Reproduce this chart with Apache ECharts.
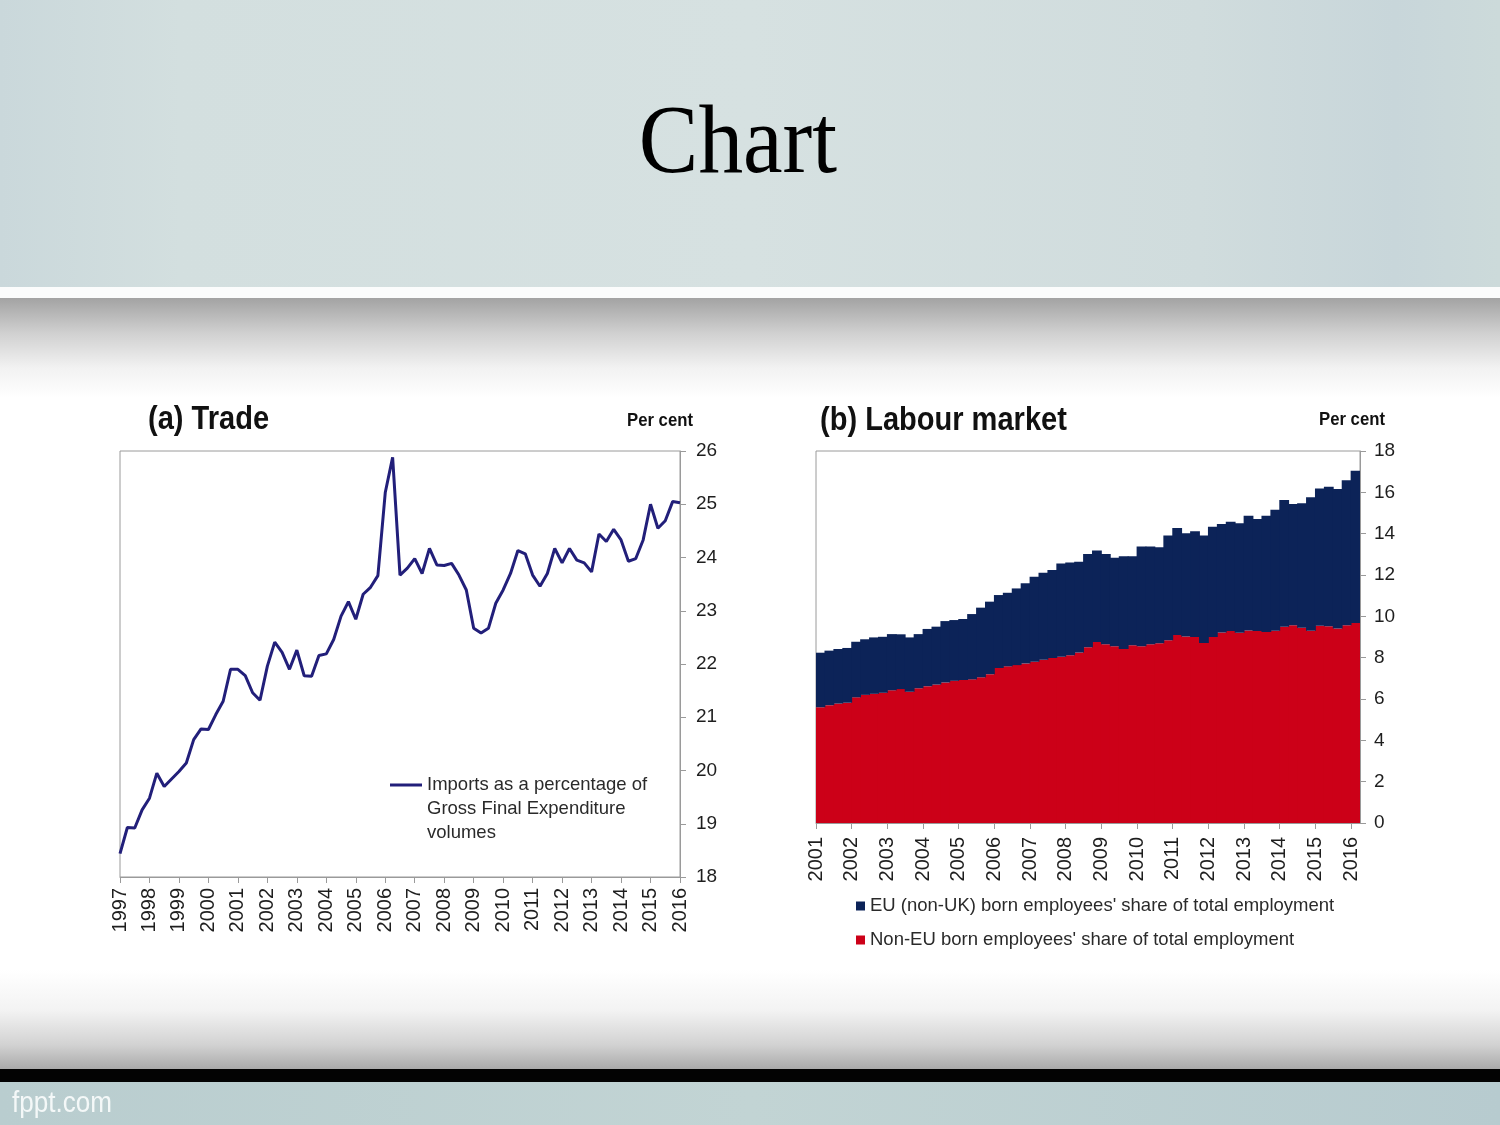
<!DOCTYPE html>
<html>
<head>
<meta charset="utf-8">
<script src="https://cdn.jsdelivr.net/npm/echarts@6/dist/echarts.min.js"></script>
<style>
html,body{margin:0;padding:0;background:#fff;}
#c{width:1500px;height:1125px;}
</style>
</head>
<body>
<div id="c"></div>
<script>
// ---------- Data ----------
// (a) Trade: quarterly, 1997 Q1 .. 2016 Q1
const tradeYears = ['1997','1998','1999','2000','2001','2002','2003','2004','2005','2006','2007','2008','2009','2010','2011','2012','2013','2014','2015','2016'];
const tradeImports = [
  18.44,18.93,18.92,19.26, 19.48,19.95,19.70,19.84, 19.98,20.14,20.58,20.78,
  20.77,21.05,21.30,21.90, 21.90,21.78,21.46,21.32, 21.96,22.41,22.22,21.90,
  22.26,21.78,21.77,22.16, 22.19,22.46,22.90,23.17, 22.84,23.31,23.44,23.66,
  25.22,25.88,23.67,23.80, 23.98,23.70,24.17,23.86, 23.85,23.89,23.67,23.39,
  22.67,22.58,22.67,23.14, 23.39,23.70,24.13,24.07, 23.67,23.46,23.70,24.17,
  23.90,24.17,23.95,23.90, 23.73,24.44,24.30,24.53, 24.33,23.93,23.98,24.33,
  25.00,24.55,24.69,25.05, 25.03
];
const tradeSeriesName = 'Imports as a percentage of Gross Final Expenditure volumes';
const tradeLegendLines = ['Imports as a percentage of', 'Gross Final Expenditure', 'volumes'];

// (b) Labour market: quarterly, 2001 Q1 .. 2016 Q1
const labourYears = ['2001','2002','2003','2004','2005','2006','2007','2008','2009','2010','2011','2012','2013','2014','2015','2016'];
const nonEUShare = [
  5.60,5.70,5.78,5.82, 6.08,6.20,6.25,6.30, 6.42,6.48,6.35,6.52,
  6.62,6.70,6.80,6.88, 6.92,6.95,7.05,7.20, 7.50,7.58,7.64,7.72,
  7.80,7.90,7.98,8.05, 8.12,8.25,8.50,8.76, 8.65,8.55,8.42,8.60,
  8.55,8.65,8.70,8.84, 9.10,9.02,9.00,8.71, 9.00,9.22,9.29,9.20,
  9.32,9.29,9.24,9.30, 9.50,9.57,9.45,9.30, 9.55,9.52,9.41,9.57,
  9.68
];
const euShare = [
  2.64,2.64,2.64,2.65, 2.69,2.69,2.73,2.71, 2.72,2.65,2.63,2.62,
  2.77,2.80,2.97,2.94, 2.95,3.16,3.37,3.51, 3.53,3.56,3.71,3.88,
  4.12,4.21,4.26,4.51, 4.49,4.39,4.52,4.42, 4.37,4.28,4.49,4.31,
  4.83,4.73,4.64,5.07, 5.18,5.00,5.12,5.20, 5.34,5.25,5.29,5.30,
  5.55,5.42,5.63,5.86, 6.13,5.86,6.02,6.46, 6.64,6.75,6.75,7.02,
  7.36
];
const euName = "EU (non-UK) born employees' share of total employment";
const nonEUName = "Non-EU born employees' share of total employment";

const tradeYTicks = {min: 18, max: 26, interval: 1};
const labourYTicks = {min: 0, max: 18, interval: 2};

// quarterly category labels built from the year lists
function quarterCats(years, n) {
  const out = [];
  for (const y of years) for (let q = 1; q <= 4; q++) if (out.length < n) out.push(y + ' Q' + q);
  return out;
}
const tradeCats = quarterCats(tradeYears, tradeImports.length);
const labourCats = quarterCats(labourYears, nonEUShare.length);

// ---------- Chart ----------
const FONT = '"Liberation Sans", Arial, sans-serif';
const chart = echarts.init(document.getElementById('c'), null, {renderer: 'canvas'});

const axisGray = '#9a9a9a';
const labelColor = '#1e1e1e';
const lineColor = '#221f7a';
const redColor = '#cc0018';
const blueColor = '#0c2358';

const option = {
  animation: false,
  textStyle: {fontFamily: FONT},
  graphic: [
    // top band
    {type: 'rect', z: -10, shape: {x: 0, y: 0, width: 1500, height: 287},
     style: {fill: {type: 'linear', x: 0, y: 0, x2: 1, y2: 0, colorStops: [
       {offset: 0, color: '#cad8db'}, {offset: 0.12, color: '#d3dfdf'},
       {offset: 0.5, color: '#d6e1e1'}, {offset: 0.8, color: '#d0dcdd'},
       {offset: 0.93, color: '#c8d6da'}, {offset: 1, color: '#ccdada'}]}}},
    {type: 'rect', z: -10, shape: {x: 0, y: 287, width: 1500, height: 11}, style: {fill: '#fbfcfc'}},
    {type: 'rect', z: -10, shape: {x: 0, y: 298, width: 1500, height: 100},
     style: {fill: {type: 'linear', x: 0, y: 0, x2: 0, y2: 1, colorStops: [
       {offset: 0, color: '#a3a3a3'}, {offset: 0.35, color: '#d0d0d0'},
       {offset: 0.7, color: '#f2f2f2'}, {offset: 1, color: '#ffffff'}]}}},
    {type: 'rect', z: -10, shape: {x: 0, y: 398, width: 1500, height: 572}, style: {fill: '#ffffff'}},
    {type: 'rect', z: -10, shape: {x: 0, y: 970, width: 1500, height: 100},
     style: {fill: {type: 'linear', x: 0, y: 0, x2: 0, y2: 1, colorStops: [
       {offset: 0, color: '#ffffff'}, {offset: 0.4, color: '#f3f3f3'},
       {offset: 0.75, color: '#d2d2d2'}, {offset: 1, color: '#a8a8a8'}]}}},
    {type: 'rect', z: -10, shape: {x: 0, y: 1069, width: 1500, height: 13}, style: {fill: '#030303'}},
    {type: 'rect', z: -10, shape: {x: 0, y: 1082, width: 1500, height: 43},
     style: {fill: {type: 'linear', x: 0, y: 0, x2: 1, y2: 0, colorStops: [
       {offset: 0, color: '#b9cdcf'}, {offset: 0.5, color: '#c2d4d4'}, {offset: 1, color: '#b7cbcf'}]}}},
    {type: 'text', z: 5, x: 12, y: 1104, scaleX: 0.9,
     style: {text: 'fppt.com', fill: '#f4f8f8', font: '29px ' + FONT, verticalAlign: 'middle'}},
    // slide title
    {type: 'text', z: 5, x: 738, y: 147, scaleX: 0.92,
     style: {text: 'Chart', fill: '#000', font: '97px "Liberation Serif", "Times New Roman", serif',
       align: 'center', verticalAlign: 'middle'}},
    // panel titles
    {type: 'text', z: 5, x: 148, y: 420, scaleX: 0.88,
     style: {text: '(a) Trade', fill: '#111', font: 'bold 33px ' + FONT, verticalAlign: 'middle'}},
    {type: 'text', z: 5, x: 693, y: 421, scaleX: 0.88,
     style: {text: 'Per cent', fill: '#111', font: 'bold 19px ' + FONT, align: 'right', verticalAlign: 'middle'}},
    {type: 'text', z: 5, x: 820, y: 421, scaleX: 0.88,
     style: {text: '(b) Labour market', fill: '#111', font: 'bold 33px ' + FONT, verticalAlign: 'middle'}},
    {type: 'text', z: 5, x: 1385, y: 420, scaleX: 0.88,
     style: {text: 'Per cent', fill: '#111', font: 'bold 19px ' + FONT, align: 'right', verticalAlign: 'middle'}}
  ],
  legend: [
    {
      data: [tradeSeriesName],
      left: 390, top: 725, padding: 0,
      itemWidth: 32, itemHeight: 3,
      icon: 'rect',
      itemStyle: {color: lineColor},
      // two empty lines on top so that the icon lines up with the first text line
      formatter: () => '\n\n' + tradeLegendLines.join('\n'),
      textStyle: {fontSize: 18.5, color: '#2a2a2a', lineHeight: 24, fontFamily: FONT}
    },
    {
      data: [euName, nonEUName],
      orient: 'vertical',
      left: 856, top: 894, padding: 0,
      itemWidth: 9, itemHeight: 9, itemGap: 10,
      icon: 'rect',
      textStyle: {fontSize: 18.5, color: '#2a2a2a', fontFamily: FONT, lineHeight: 24}
    }
  ],
  grid: [
    {left: 120, top: 451, width: 560, height: 426, show: true, borderColor: axisGray, borderWidth: 1, backgroundColor: '#fff'},
    {left: 816, top: 451, width: 544, height: 372, show: true, borderColor: axisGray, borderWidth: 1, backgroundColor: '#fff'}
  ],
  xAxis: [
    {
      gridIndex: 0, type: 'category', data: tradeCats, boundaryGap: false,
      axisLine: {lineStyle: {color: axisGray}},
      axisTick: {show: true, interval: 3, length: 6, lineStyle: {color: axisGray}},
      axisLabel: {interval: 3, rotate: 90, margin: 11, fontSize: 20, color: labelColor, fontFamily: FONT,
        formatter: v => v.slice(0, 4)},
      splitLine: {show: false}
    },
    {
      gridIndex: 1, type: 'category', data: labourCats, boundaryGap: true, position: 'bottom',
      axisLine: {lineStyle: {color: axisGray}},
      axisTick: {show: false}, axisLabel: {show: false}, splitLine: {show: false}
    },
    {
      gridIndex: 1, type: 'value', position: 'bottom', min: 2001, max: 2016.25, interval: 1,
      axisLine: {show: false},
      axisTick: {show: true, length: 6, lineStyle: {color: axisGray}},
      axisLabel: {rotate: 90, margin: 14, fontSize: 20, color: labelColor, fontFamily: FONT, showMaxLabel: false,
        formatter: v => Number.isInteger(v) ? String(v) : ''},
      splitLine: {show: false}
    }
  ],
  yAxis: [
    {
      gridIndex: 0, type: 'value', position: 'right',
      min: tradeYTicks.min, max: tradeYTicks.max, interval: tradeYTicks.interval,
      axisLine: {show: true, lineStyle: {color: axisGray}},
      axisTick: {show: true, length: 6, lineStyle: {color: axisGray}},
      axisLabel: {margin: 16, fontSize: 19, color: labelColor, fontFamily: FONT},
      splitLine: {show: false}
    },
    {
      gridIndex: 1, type: 'value', position: 'right',
      min: labourYTicks.min, max: labourYTicks.max, interval: labourYTicks.interval,
      axisLine: {show: true, lineStyle: {color: axisGray}},
      axisTick: {show: true, length: 6, lineStyle: {color: axisGray}},
      axisLabel: {margin: 14, fontSize: 19, color: labelColor, fontFamily: FONT},
      splitLine: {show: false}
    }
  ],
  series: [
    {
      name: tradeSeriesName, type: 'line', xAxisIndex: 0, yAxisIndex: 0,
      data: tradeImports, symbol: 'none', showSymbol: false,
      lineStyle: {color: lineColor, width: 3},
      itemStyle: {color: lineColor}
    },
    {
      name: nonEUName, type: 'bar', xAxisIndex: 1, yAxisIndex: 1, stack: 'share',
      data: nonEUShare, barWidth: 9.8,
      itemStyle: {color: redColor}
    },
    {
      name: euName, type: 'bar', xAxisIndex: 1, yAxisIndex: 1, stack: 'share',
      data: euShare, barWidth: 9.8,
      itemStyle: {color: blueColor}
    }
  ]
};
chart.setOption(option);
</script>
</body>
</html>
